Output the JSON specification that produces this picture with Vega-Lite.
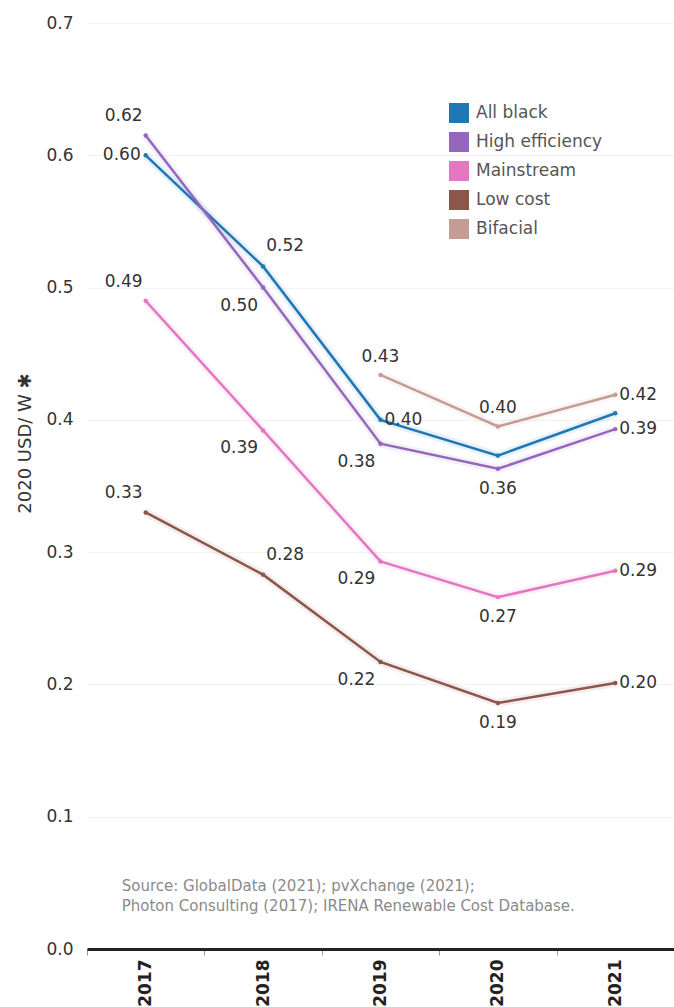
{
  "$schema": "https://vega.github.io/schema/vega-lite/v6.json",
  "autosize": "none",
  "width": 587,
  "height": 926,
  "padding": {"left": 87, "top": 23, "right": 0, "bottom": 58},
  "background": "white",
  "config": {
    "font": "DejaVu Sans",
    "view": {"stroke": null},
    "text": {"fontSize": 17, "baseline": "middle"}
  },
  "data": {
    "values": [
      {"year": "2017", "series": "All black", "price": 0.600, "label": "0.60", "pos": "left"},
      {"year": "2018", "series": "All black", "price": 0.516, "label": "0.52", "pos": "rightAbove"},
      {"year": "2019", "series": "All black", "price": 0.400, "label": "0.40", "pos": "right"},
      {"year": "2020", "series": "All black", "price": 0.373, "label": null, "pos": "none"},
      {"year": "2021", "series": "All black", "price": 0.405, "label": null, "pos": "none"},
      {"year": "2017", "series": "High efficiency", "price": 0.615, "label": "0.62", "pos": "leftAbove"},
      {"year": "2018", "series": "High efficiency", "price": 0.500, "label": "0.50", "pos": "leftBelow"},
      {"year": "2019", "series": "High efficiency", "price": 0.382, "label": "0.38", "pos": "leftBelow"},
      {"year": "2020", "series": "High efficiency", "price": 0.363, "label": "0.36", "pos": "below"},
      {"year": "2021", "series": "High efficiency", "price": 0.393, "label": "0.39", "pos": "right"},
      {"year": "2017", "series": "Mainstream", "price": 0.490, "label": "0.49", "pos": "leftAbove"},
      {"year": "2018", "series": "Mainstream", "price": 0.392, "label": "0.39", "pos": "leftBelow"},
      {"year": "2019", "series": "Mainstream", "price": 0.293, "label": "0.29", "pos": "leftBelow"},
      {"year": "2020", "series": "Mainstream", "price": 0.266, "label": "0.27", "pos": "below"},
      {"year": "2021", "series": "Mainstream", "price": 0.286, "label": "0.29", "pos": "right"},
      {"year": "2017", "series": "Low cost", "price": 0.330, "label": "0.33", "pos": "leftAbove"},
      {"year": "2018", "series": "Low cost", "price": 0.283, "label": "0.28", "pos": "rightAbove"},
      {"year": "2019", "series": "Low cost", "price": 0.217, "label": "0.22", "pos": "leftBelow"},
      {"year": "2020", "series": "Low cost", "price": 0.186, "label": "0.19", "pos": "below"},
      {"year": "2021", "series": "Low cost", "price": 0.201, "label": "0.20", "pos": "right"},
      {"year": "2019", "series": "Bifacial", "price": 0.434, "label": "0.43", "pos": "above"},
      {"year": "2020", "series": "Bifacial", "price": 0.395, "label": "0.40", "pos": "above"},
      {"year": "2021", "series": "Bifacial", "price": 0.419, "label": "0.42", "pos": "right"}
    ]
  },
  "encoding": {
    "x": {
      "field": "year",
      "type": "ordinal",
      "scale": {"type": "band", "paddingInner": 0, "paddingOuter": 0},
      "axis": {
        "title": null,
        "labelAngle": 270,
        "labelAlign": "right",
        "labelBaseline": "middle",
        "labelFontSize": 17,
        "labelFontWeight": "bold",
        "labelColor": "#222",
        "labelPadding": 4,
        "tickBand": "extent",
        "tickSize": 6,
        "tickColor": "#999",
        "tickWidth": 1,
        "domainColor": "#222",
        "domainWidth": 3,
        "grid": false
      }
    },
    "y": {
      "field": "price",
      "type": "quantitative",
      "scale": {"domain": [0, 0.7], "nice": false},
      "axis": {
        "title": "2020 USD/ W ✱",
        "titleFontSize": 18,
        "titleFontWeight": "normal",
        "titleColor": "#333",
        "titleAngle": 270,
        "titleX": -62,
        "titleY": 420,
        "titleAlign": "center",
        "titleBaseline": "middle",
        "values": [0, 0.1, 0.2, 0.3, 0.4, 0.5, 0.6, 0.7],
        "format": ".1f",
        "labelFontSize": 17,
        "labelColor": "#333",
        "labelPadding": 14,
        "ticks": false,
        "domain": false,
        "grid": true,
        "gridColor": "#f3f3f3",
        "gridWidth": 1
      }
    },
    "color": {
      "field": "series",
      "type": "nominal",
      "scale": {
        "domain": ["All black", "High efficiency", "Mainstream", "Low cost", "Bifacial"],
        "range": ["#1f77b4", "#9467bd", "#e377c2", "#8c564b", "#c49c94"]
      },
      "legend": {
        "title": null,
        "orient": "none",
        "legendX": 362,
        "legendY": 80,
        "symbolType": "square",
        "symbolSize": 400,
        "labelFontSize": 17,
        "labelColor": "#555",
        "labelOffset": 7,
        "rowPadding": 9,
        "encode": {
          "symbols": {
            "update": {
              "shape": {"value": "square"},
              "fill": {"scale": "color", "field": "value"},
              "stroke": {"value": null},
              "strokeWidth": {"value": 0},
              "opacity": {"value": 1}
            }
          }
        }
      }
    }
  },
  "layer": [
    {"mark": {"type": "line", "strokeWidth": 8, "opacity": 0.1}},
    {"mark": {"type": "line", "strokeWidth": 2.5}},
    {"mark": {"type": "point", "filled": true, "size": 20, "opacity": 1}},
    {
      "transform": [{"filter": "datum.pos == 'left'"}],
      "mark": {"type": "text", "align": "right", "dx": -5, "dy": 0},
      "encoding": {"text": {"field": "label"}, "color": {"value": "#333"}}
    },
    {
      "transform": [{"filter": "datum.pos == 'right'"}],
      "mark": {"type": "text", "align": "left", "dx": 4, "dy": 0},
      "encoding": {"text": {"field": "label"}, "color": {"value": "#333"}}
    },
    {
      "transform": [{"filter": "datum.pos == 'leftAbove'"}],
      "mark": {"type": "text", "align": "center", "dx": -22, "dy": -19},
      "encoding": {"text": {"field": "label"}, "color": {"value": "#333"}}
    },
    {
      "transform": [{"filter": "datum.pos == 'rightAbove'"}],
      "mark": {"type": "text", "align": "center", "dx": 22, "dy": -20},
      "encoding": {"text": {"field": "label"}, "color": {"value": "#333"}}
    },
    {
      "transform": [{"filter": "datum.pos == 'leftBelow'"}],
      "mark": {"type": "text", "align": "center", "dx": -24, "dy": 18},
      "encoding": {"text": {"field": "label"}, "color": {"value": "#333"}}
    },
    {
      "transform": [{"filter": "datum.pos == 'above'"}],
      "mark": {"type": "text", "align": "center", "dx": 0, "dy": -18},
      "encoding": {"text": {"field": "label"}, "color": {"value": "#333"}}
    },
    {
      "transform": [{"filter": "datum.pos == 'below'"}],
      "mark": {"type": "text", "align": "center", "dx": 0, "dy": 20},
      "encoding": {"text": {"field": "label"}, "color": {"value": "#333"}}
    },
    {
      "data": {"values": [{"src": ["Source: GlobalData (2021); pvXchange (2021);", "Photon Consulting (2017); IRENA Renewable Cost Database."], "year": "2017", "price": 0.048}]},
      "mark": {"type": "text", "align": "left", "baseline": "middle", "dx": -24, "fontSize": 15, "lineHeight": 20, "fill": "#8a8a8a"},
      "encoding": {
        "x": {"field": "year", "type": "ordinal"},
        "y": {"field": "price", "type": "quantitative"},
        "text": {"field": "src"},
        "color": {"value": "#8a8a8a"}
      }
    }
  ]
}
